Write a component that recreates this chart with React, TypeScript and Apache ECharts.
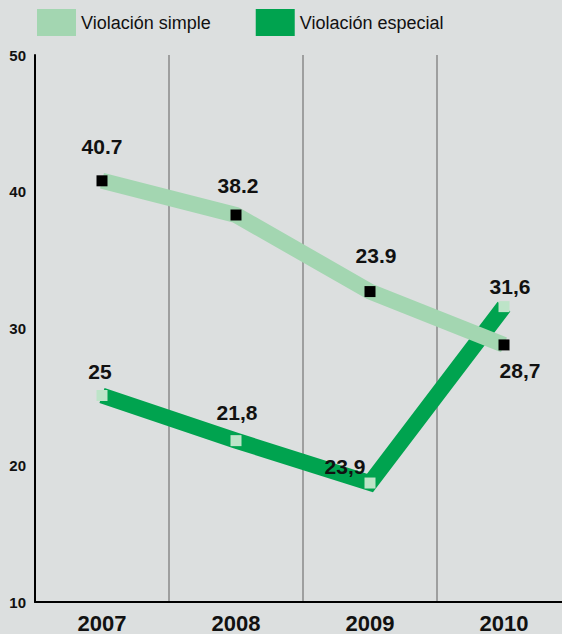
import React, { useEffect, useRef } from "react";
import * as echarts from "echarts";

const years = ["2007", "2008", "2009", "2010"];
const simpleValues = [40.8, 38.3, 32.7, 28.8];
const simpleLabels = ["40.7", "38.2", "23.9", "28,7"];
const especialValues = [25.1, 21.8, 18.7, 31.6];
const especialLabels = ["25", "21,8", "23,9", "31,6"];
const yTicks = [10, 20, 30, 40, 50];

const simpleOffsets = [[0, -34], [2, -29], [6, -36], [16, 26]];
const especialOffsets = [[-2, -24], [1, -28], [-25, -17], [6, -20]];

const SANS = "'Liberation Sans', Arial, sans-serif";
const LIGHT = "#a3d6b1";
const DARK = "#00a34f";

export default function App() {
  const ref = useRef<HTMLDivElement>(null);
  useEffect(() => {
    if (!ref.current) return;
    const chart = echarts.init(ref.current, undefined, { renderer: "svg" });
    const mk = (vals: number[], labels: string[], offs: number[][]) =>
      vals.map((v, i) => ({
        value: v,
        label: {
          show: true,
          position: "inside",
          offset: offs[i],
          formatter: labels[i],
        },
      }));
    const labelStyle = {
      color: "#111",
      fontFamily: SANS,
      fontWeight: "bold",
      fontSize: 21,
    };
    chart.setOption({
      animation: false,
      backgroundColor: "#dcdfdf",
      legend: {
        top: 4,
        left: 32,
        itemWidth: 39,
        itemHeight: 27,
        itemGap: 45,
        icon: "rect",
        textStyle: { fontFamily: SANS, fontSize: 18, color: "#111" },
        data: [
          { name: "Violación simple", itemStyle: { color: LIGHT } },
          { name: "Violación especial", itemStyle: { color: DARK } },
        ],
      },
      grid: { left: 35, right: 0, top: 55, bottom: 32 },
      xAxis: {
        type: "category",
        data: years,
        boundaryGap: true,
        axisLine: { lineStyle: { color: "#000", width: 2 } },
        axisTick: { show: false },
        axisLabel: {
          margin: 10,
          color: "#111",
          fontFamily: SANS,
          fontWeight: "bold",
          fontSize: 22,
        },
        splitLine: { show: true, lineStyle: { color: "#8a8a8a", width: 1.5 } },
      },
      yAxis: {
        type: "value",
        min: yTicks[0],
        max: yTicks[yTicks.length - 1],
        interval: 10,
        axisLine: { show: true, lineStyle: { color: "#000", width: 2 } },
        axisTick: { show: false },
        splitLine: { show: false },
        axisLabel: {
          margin: 9,
          color: "#111",
          fontFamily: SANS,
          fontWeight: "bold",
          fontSize: 15,
        },
      },
      series: [
        {
          name: "Violación simple",
          type: "line",
          z: 4,
          data: mk(simpleValues, simpleLabels, simpleOffsets),
          symbol: "rect",
          symbolSize: 11,
          itemStyle: { color: "#000" },
          lineStyle: { color: LIGHT, width: 16, join: "miter", cap: "butt" },
          label: labelStyle,
        },
        {
          name: "Violación especial",
          type: "line",
          z: 2,
          data: mk(especialValues, especialLabels, especialOffsets),
          symbol: "rect",
          symbolSize: 11,
          itemStyle: { color: "#bde4c8" },
          lineStyle: { color: DARK, width: 16, join: "miter", cap: "butt" },
          label: labelStyle,
        },
      ],
    });
    return () => chart.dispose();
  }, []);
  return (
    <div
      ref={ref}
      style={{ position: "fixed", left: 0, top: 0, width: 571, height: 634 }}
    />
  );
}
